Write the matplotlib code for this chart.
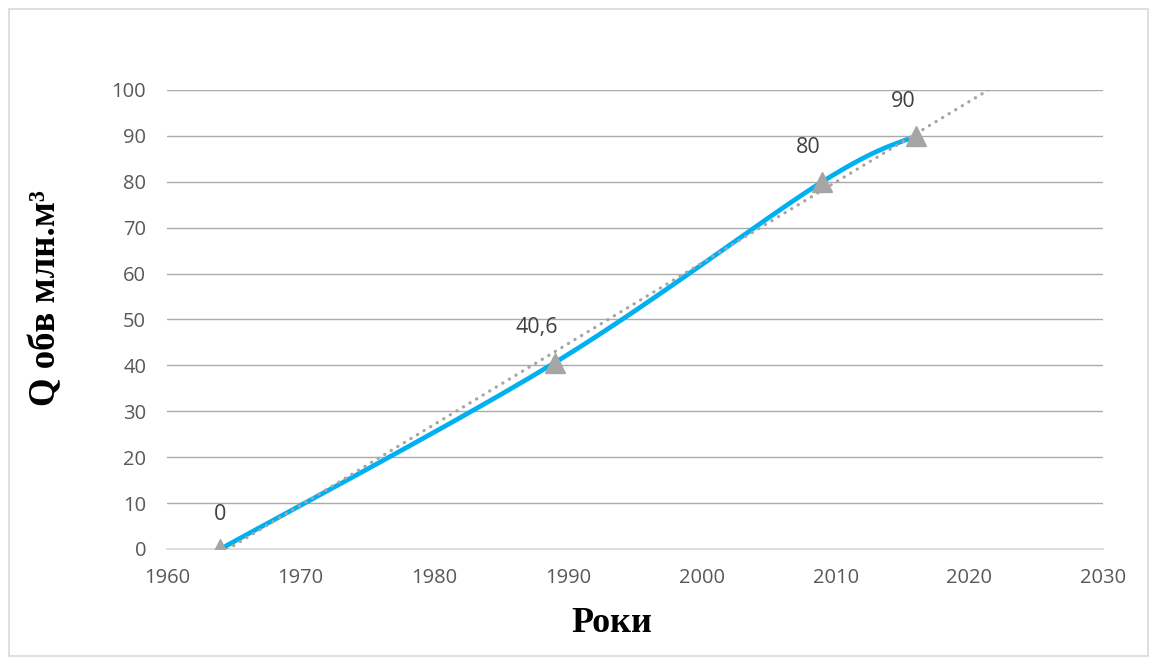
import numpy as np
import matplotlib
matplotlib.use("Agg")
import matplotlib.pyplot as plt
from matplotlib.patches import Rectangle

years = [1964, 1989, 2009, 2016]
values = [0, 40.6, 80, 90]
labels = ["0", "40,6", "80", "90"]
x_ticks = [1960, 1970, 1980, 1990, 2000, 2010, 2020, 2030]
y_ticks = [0, 10, 20, 30, 40, 50, 60, 70, 80, 90, 100]

# label offsets (points), styling only
label_dx = [0, -13, -10, -9]
label_dy = [25, 25, 25, 25]


def catmull_rom(xs, ys, n=60):
    p = np.column_stack([xs, ys]).astype(float)
    p = np.vstack([p[0], p, p[-1]])
    out = []
    for i in range(1, len(p) - 2):
        p0, p1, p2, p3 = p[i - 1], p[i], p[i + 1], p[i + 2]
        c1 = p1 + (p2 - p0) / 6.0
        c2 = p2 - (p3 - p1) / 6.0
        t = np.linspace(0, 1, n)[:, None]
        seg = ((1 - t) ** 3) * p1 + 3 * ((1 - t) ** 2) * t * c1 + 3 * (1 - t) * t ** 2 * c2 + t ** 3 * p2
        out.append(seg if i == 1 else seg[1:])
    s = np.vstack(out)
    return s[:, 0], s[:, 1]


fig = plt.figure(figsize=(11.5, 6.64), dpi=100)
ax = fig.add_axes([167 / 1150, 1 - 549 / 664, (1103 - 167) / 1150, (549 - 90) / 664])

# border
fig.patches.append(Rectangle((9 / 1150, 1 - 656 / 664), (1148 - 9) / 1150, (656 - 9) / 664,
                             transform=fig.transFigure, fill=False, edgecolor="#D9D9D9", lw=1.2))

sx, sy = catmull_rom(years, values)
ax.plot(sx, sy, color="#00B0F0", lw=3.4, solid_capstyle="round", zorder=3)
ax.plot(years, values, linestyle="none", marker="^", ms=15, color="#A5A5A5", mec="#A5A5A5", zorder=4)

# linear trendline
k, b = np.polyfit(years, values, 1)
tx = np.array([years[0], 2030])
ax.plot(tx, k * tx + b, color="#A5A5A5", lw=2.3, linestyle=(0, (0.1, 2.3)), zorder=5,
        dash_capstyle="round")

for xv, yv, lab, dx, dy in zip(years, values, labels, label_dx, label_dy):
    ax.annotate(lab, (xv, yv), xytext=(dx, dy), textcoords="offset points", ha="center", va="center",
                fontsize=15.5, color="#404040", family="Open Sans")

ax.set_xlim(1960, 2030)
ax.set_ylim(0, 100)
ax.set_xticks(x_ticks)
ax.set_yticks(y_ticks)
ax.set_xticklabels([str(v) for v in x_ticks], fontsize=14.5, color="#595959", family="Open Sans")
ax.set_yticklabels([str(v) for v in y_ticks], fontsize=14.5, color="#595959", family="Open Sans")
ax.tick_params(axis="both", length=0)
ax.tick_params(axis="x", pad=14)
ax.tick_params(axis="y", pad=15)
ax.grid(axis="y", color="#ABABAB", lw=1)
ax.set_axisbelow(True)
for s in ["top", "right", "left"]:
    ax.spines[s].set_visible(False)
ax.spines["bottom"].set_color("#D9D9D9")
ax.spines["bottom"].set_linewidth(1.2)

fig.text(612 / 1150, 1 - 623 / 664, "Роки", ha="center", va="center", fontsize=26,
         fontweight="bold", family="Liberation Serif", color="black")
fig.text(46 / 1150, 1 - 298 / 664, "Q обв млн.м³", ha="center", va="center", rotation=90,
         fontsize=26.5, fontweight="bold", family="Liberation Serif", color="black")

fig.savefig("out.png", dpi=100)
